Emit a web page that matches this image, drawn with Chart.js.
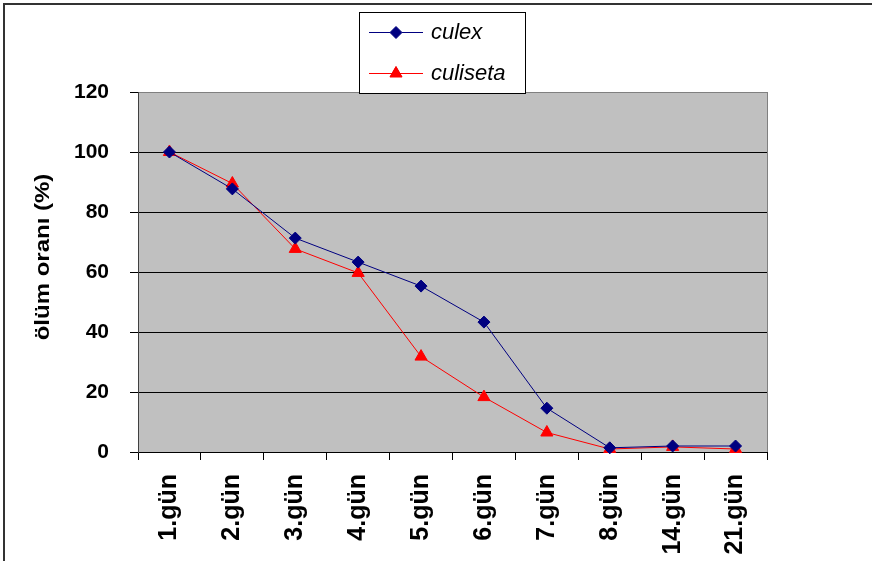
<!DOCTYPE html>
<html>
<head>
<meta charset="utf-8">
<script src="https://cdn.jsdelivr.net/npm/chart.js@4.4.1/dist/chart.umd.min.js"></script>
<style>
  html, body { margin: 0; padding: 0; background: #fff; overflow: hidden; }
  #wrap { position: relative; width: 872px; height: 561px; }
</style>
</head>
<body>
<div id="wrap"><canvas id="c" width="872" height="561"></canvas></div>
<script>
// Days after treatment
const days = ['1.gün', '2.gün', '3.gün', '4.gün', '5.gün', '6.gün', '7.gün', '8.gün', '14.gün', '21.gün'];
// Mortality rate (%) per genus
const culex = [100, 87.7, 71.3, 63.3, 55.3, 43.3, 14.6, 1.4, 2, 2];
const culiseta = [100, 89.5, 67.7, 59.7, 31.8, 18.3, 6.5, 1, 1.7, 1];
// Value axis ticks
const yTicks = [0, 20, 40, 60, 80, 100, 120];
const yTitle = 'ölüm oranı (%)';

const FONT = 'Arial, "Liberation Sans", sans-serif';

// Grey plot background, right edge of the plot frame and the page frame
const framePlugin = {
  id: 'frame',
  beforeDraw(chart) {
    const { ctx, chartArea: a } = chart;
    ctx.save();
    ctx.fillStyle = '#C0C0C0';
    ctx.fillRect(a.left, a.top, a.right - a.left, a.bottom - a.top);
    ctx.restore();
  },
  afterDraw(chart) {
    const { ctx, chartArea: a } = chart;
    ctx.save();
    ctx.strokeStyle = '#808080';
    ctx.lineWidth = 1;
    ctx.beginPath();
    ctx.moveTo(a.right + 0.5, a.top);
    ctx.lineTo(a.right + 0.5, a.bottom);
    ctx.stroke();
    // page frame (top and left)
    ctx.fillStyle = '#333';
    ctx.fillRect(3, 3, chart.width - 3, 2);
    ctx.fillRect(3, 3, 2, chart.height - 3);
    ctx.restore();
  }
};

// Vertical axis title
const yTitlePlugin = {
  id: 'yTitle',
  afterDraw(chart) {
    const { ctx } = chart;
    ctx.save();
    ctx.translate(44, 257);
    ctx.rotate(-Math.PI / 2);
    ctx.scale(1, 0.82);
    ctx.font = 'bold 24px ' + FONT;
    ctx.fillStyle = '#000';
    ctx.textAlign = 'center';
    ctx.textBaseline = 'middle';
    ctx.fillText(yTitle, 0, 0);
    ctx.restore();
  }
};

// Boxed legend over the top of the plot
const legendBoxPlugin = {
  id: 'legendBox',
  afterDraw(chart) {
    const { ctx } = chart;
    const box = { x: 359.5, y: 12.5, w: 166, h: 81 };
    ctx.save();
    ctx.fillStyle = '#fff';
    ctx.fillRect(box.x, box.y, box.w, box.h);
    ctx.strokeStyle = '#000';
    ctx.lineWidth = 1;
    ctx.strokeRect(box.x, box.y, box.w, box.h);
    const rows = [32, 73];
    chart.data.datasets.forEach((ds, i) => {
      const y = rows[i];
      ctx.strokeStyle = ds.borderColor;
      ctx.lineWidth = 1;
      ctx.beginPath();
      ctx.moveTo(369, y + 0.5);
      ctx.lineTo(423, y + 0.5);
      ctx.stroke();
      Chart.helpers.drawPoint(ctx, {
        pointStyle: ds.pointStyle,
        radius: ds.pointRadius,
        borderWidth: 1
      }, 396, y + 0.5);
      ctx.fillStyle = ds.pointBackgroundColor;
      ctx.fill();
      ctx.fillStyle = '#000';
      ctx.font = 'italic 22px ' + FONT;
      ctx.textAlign = 'left';
      ctx.textBaseline = 'middle';
      ctx.fillText(ds.label, 431, y + 1);
    });
    ctx.restore();
  }
};

new Chart(document.getElementById('c'), {
  type: 'line',
  data: {
    labels: days,
    datasets: [
      {
        label: 'culex',
        data: culex,
        borderColor: '#000080',
        backgroundColor: '#000080',
        pointBackgroundColor: '#000080',
        pointBorderColor: '#000080',
        pointStyle: 'rectRot',
        pointRadius: 6,
        pointBorderWidth: 1,
        borderWidth: 1,
        tension: 0,
        clip: false
      },
      {
        label: 'culiseta',
        data: culiseta,
        borderColor: '#FF0000',
        backgroundColor: '#FF0000',
        pointBackgroundColor: '#FF0000',
        pointBorderColor: '#FF0000',
        pointStyle: 'triangle',
        pointRadius: 7,
        pointBorderWidth: 1,
        borderWidth: 1,
        tension: 0,
        clip: false
      }
    ]
  },
  options: {
    responsive: false,
    animation: false,
    devicePixelRatio: 1,
    layout: { padding: { top: 92, right: 105, left: 0, bottom: 0 } },
    plugins: {
      legend: { display: false },
      tooltip: { enabled: false }
    },
    scales: {
      x: {
        offset: true,
        afterFit(s) { s.height = 109; },
        grid: {
          offset: true,
          drawOnChartArea: false,
          drawTicks: true,
          tickLength: 8,
          color: '#000',
          tickColor: '#000'
        },
        border: { display: true, color: '#000', width: 1 },
        ticks: {
          autoSkip: false,
          minRotation: 90,
          maxRotation: 90,
          padding: 14,
          color: '#000',
          font: { family: FONT, size: 25, weight: 'bold' }
        }
      },
      y: {
        min: 0,
        max: 120,
        afterFit(s) { s.width = 138; },
        afterBuildTicks(s) { s.ticks = yTicks.map(v => ({ value: v })); },
        grid: {
          drawTicks: true,
          tickLength: 8,
          color: c => (c.tick && c.tick.value === 120 ? '#808080' : '#000'),
          tickColor: '#000',
          lineWidth: 1
        },
        border: { display: true, color: '#404040', width: 1 },
        ticks: {
          padding: 21,
          color: '#000',
          font: { family: FONT, size: 21, weight: 'bold' }
        }
      }
    }
  },
  plugins: [framePlugin, yTitlePlugin, legendBoxPlugin]
});
</script>
</body>
</html>
